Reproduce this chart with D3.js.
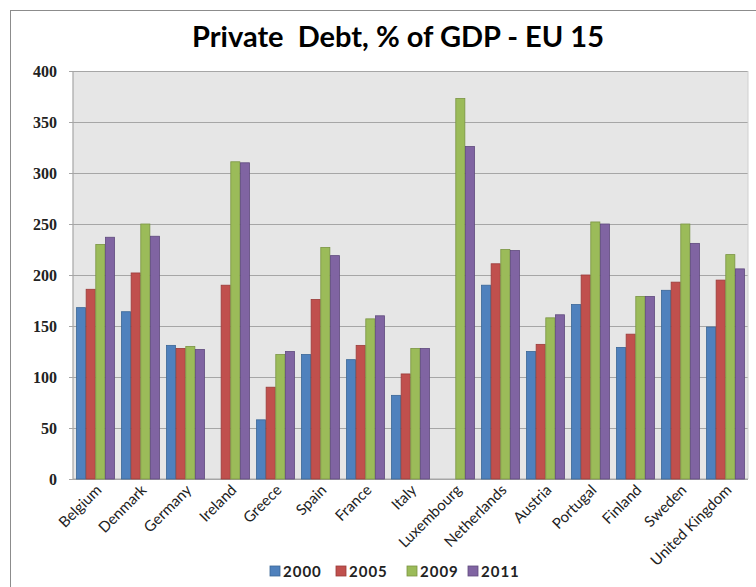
<!DOCTYPE html>
<html>
<head>
    <meta charset="UTF-8">
    <title>Private Debt, % of GDP - EU 15</title>
    <style>
        body {
            margin: 0;
            background-color: white;
        }
        svg {
            display: block;
        }
        .title {
            font-family: Lato, "Open Sans", sans-serif;
            font-weight: bold;
            font-size: 29px;
            fill: black;
        }
        .ytick text {
            font-family: "Liberation Serif", serif;
            font-weight: bold;
            font-size: 16px;
            fill: #222;
        }
        .xlabel {
            font-family: Lato, "Open Sans", sans-serif;
            font-size: 15px;
            fill: #222;
        }
        .legend text {
            font-family: Lato, "Open Sans", sans-serif;
            font-size: 15px;
            font-weight: bold;
            letter-spacing: 1px;
            fill: #222;
        }
    </style>
</head>
<body>
    <svg id="chart" width="756" height="587"></svg>

    <script src="https://d3js.org/d3.v7.min.js"></script>
    <script>
        // Data
        var countries = ["Belgium", "Denmark", "Germany", "Ireland", "Greece", "Spain", "France", "Italy",
            "Luxembourg", "Netherlands", "Austria", "Portugal", "Finland", "Sweden", "United Kingdom"];
        var years = ["2000", "2005", "2009", "2011"];
        var colors = ["#4F81BD", "#C0504D", "#9BBB59", "#8064A2"];
        var borders = ["#3A6696", "#9A3B39", "#7A9443", "#5F4A7D"];

        var debt2000 = [168, 164, 131, null, 58, 122, 117, 82, null, 190, 125, 171, 129, 185, 149];
        var debt2005 = [186, 202, 128, 190, 90, 176, 131, 103, null, 211, 132, 200, 142, 193, 195];
        var debt2009 = [230, 250, 130, 311, 122, 227, 157, 128, 373, 225, 158, 252, 179, 250, 220];
        var debt2011 = [237, 238, 127, 310, 125, 219, 160, 128, 326, 224, 161, 250, 179, 231, 206];
        var seriesValues = [debt2000, debt2005, debt2009, debt2011];

        var yTicks = [0, 50, 100, 150, 200, 250, 300, 350, 400];

        // Layout
        var plot = { left: 73, right: 748, top: 71, bottom: 479 };

        var svg = d3.select("#chart");

        // Outer chart border (only left and top edges fall inside the picture)
        svg.append("rect")
            .attr("x", 10.5).attr("y", 10.5)
            .attr("width", 800).attr("height", 600)
            .attr("fill", "white")
            .attr("stroke", "#8c8c8c")
            .attr("stroke-width", 1);

        svg.append("text")
            .attr("class", "title")
            .attr("x", 398)
            .attr("y", 47)
            .attr("text-anchor", "middle")
            .style("white-space", "pre")
            .text("Private  Debt, % of GDP - EU 15");

        var x0 = d3.scaleBand()
            .domain(countries)
            .range([plot.left, plot.right])
            .paddingInner(0.13)
            .paddingOuter(0.065);

        var x1 = d3.scaleBand()
            .domain(years)
            .range([0, x0.bandwidth()])
            .padding(0.06);

        var y = d3.scaleLinear()
            .domain([0, 400])
            .range([plot.bottom, plot.top]);

        // Plot area background
        svg.append("rect")
            .attr("x", plot.left)
            .attr("y", plot.top)
            .attr("width", plot.right - plot.left)
            .attr("height", plot.bottom - plot.top)
            .attr("fill", "#e6e6e6");

        // Gridlines and y labels
        var yAxis = d3.axisLeft(y)
            .tickValues(yTicks)
            .tickSize(-(plot.right - plot.left))
            .tickPadding(16);

        var gy = svg.append("g")
            .attr("class", "ytick")
            .attr("transform", "translate(" + plot.left + ",0)")
            .call(yAxis);
        gy.select(".domain").remove();
        gy.selectAll("line")
            .attr("stroke", "#a6a6a6")
            .attr("stroke-width", 1.2);

        // small outward ticks
        gy.selectAll(".tick").append("line")
            .attr("x1", -4).attr("x2", 0)
            .attr("stroke", "#a6a6a6");

        // Plot frame: left, right and bottom lines
        svg.append("line")
            .attr("x1", plot.left).attr("x2", plot.left)
            .attr("y1", plot.top).attr("y2", plot.bottom)
            .attr("stroke", "#a6a6a6").attr("stroke-width", 1.2);
        svg.append("line")
            .attr("x1", plot.right).attr("x2", plot.right)
            .attr("y1", plot.top).attr("y2", plot.bottom)
            .attr("stroke", "#d0d0d0").attr("stroke-width", 1);
        svg.append("line")
            .attr("x1", plot.left).attr("x2", plot.right)
            .attr("y1", plot.bottom).attr("y2", plot.bottom)
            .attr("stroke", "#a6a6a6").attr("stroke-width", 1.2);

        // Bars
        var groups = svg.append("g").selectAll("g")
            .data(countries)
            .enter().append("g")
            .attr("transform", function(d) { return "translate(" + x0(d) + ",0)"; });

        groups.selectAll("rect")
            .data(function(d, i) {
                return years.map(function(yr, k) {
                    return { year: yr, k: k, value: seriesValues[k][i] };
                });
            })
            .enter().append("rect")
            .filter(function(d) { return d.value != null; })
            .attr("x", function(d) { return x1(d.year); })
            .attr("y", function(d) { return y(d.value); })
            .attr("width", x1.bandwidth())
            .attr("height", function(d) { return y(0) - y(d.value); })
            .attr("fill", function(d) { return colors[d.k]; })
            .attr("stroke", function(d) { return borders[d.k]; })
            .attr("stroke-width", 0.8);

        // Category labels, rotated
        svg.append("g").selectAll("text")
            .data(countries)
            .enter().append("text")
            .attr("class", "xlabel")
            .attr("text-anchor", "end")
            .attr("transform", function(d) {
                var cx = x0(d) + x0.bandwidth() / 2 + 7;
                return "translate(" + cx + "," + (plot.bottom + 12) + ") rotate(-45)";
            })
            .text(function(d) { return d; });

        // Legend
        var legendX = [270, 336, 407, 468];
        var legend = svg.append("g").attr("class", "legend");
        var items = legend.selectAll("g")
            .data(years)
            .enter().append("g")
            .attr("transform", function(d, i) { return "translate(" + legendX[i] + ",566)"; });
        items.append("rect")
            .attr("width", 10).attr("height", 10)
            .attr("fill", function(d, i) { return colors[i]; })
            .attr("stroke", function(d, i) { return borders[i]; })
            .attr("stroke-width", 0.8);
        items.append("text")
            .attr("x", 13)
            .attr("y", 10.5)
            .text(function(d) { return d; });
    </script>
</body>
</html>
